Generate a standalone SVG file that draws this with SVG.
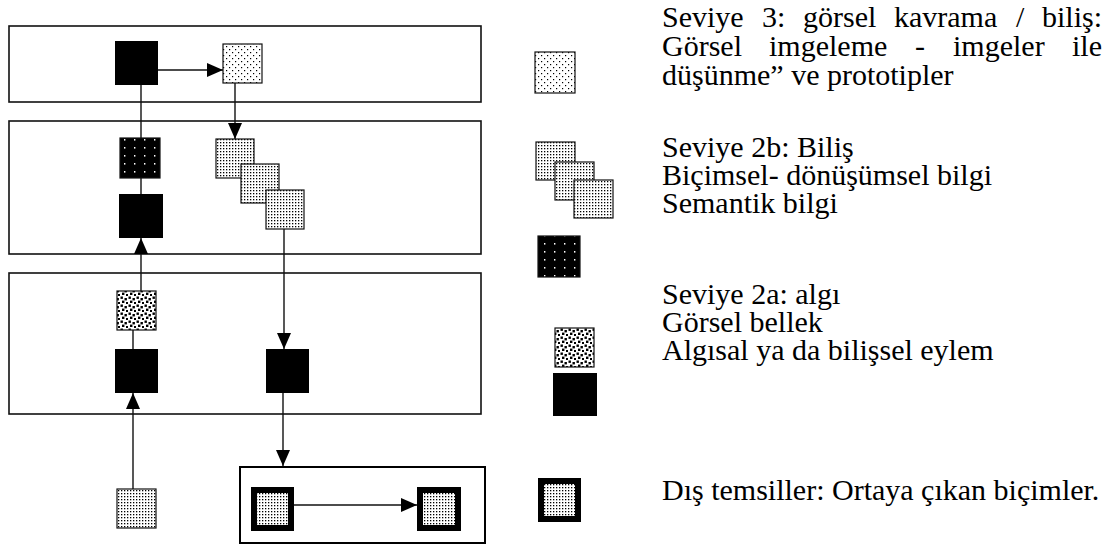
<svg xmlns="http://www.w3.org/2000/svg" width="1107" height="544" viewBox="0 0 1107 544">
<style>
.box{fill:none;stroke:#111;stroke-width:1.6}
.box2{fill:none;stroke:#000;stroke-width:2}
.blk{fill:#000}
.sq{stroke:#111;stroke-width:1.2}
.ln{fill:none;stroke:#111;stroke-width:1.4}
text{font-family:'Liberation Serif','Times New Roman',Times,serif;font-size:30px;fill:#000}
</style>
<defs>
<pattern id="pSparse" patternUnits="userSpaceOnUse" width="6" height="6">
<rect width="6" height="6" fill="#fff"/>
<rect x="1" y="1" width="1.2" height="1.2" fill="#000"/>
<rect x="4" y="4" width="1.2" height="1.2" fill="#000"/>
</pattern>
<pattern id="pDense" patternUnits="userSpaceOnUse" width="3" height="3">
<rect width="3" height="3" fill="#fff"/>
<rect x="1" y="1" width="1.3" height="1.3" fill="#000"/>
</pattern>
<pattern id="pDark" patternUnits="userSpaceOnUse" width="10" height="8">
<rect width="10" height="8" fill="#000"/>
<rect x="4" y="3" width="1.4" height="1.6" fill="#fff"/>
</pattern>
<pattern id="pBig" patternUnits="userSpaceOnUse" width="8" height="8">
<rect width="8" height="8" fill="#fff"/>
<rect x="0.5" y="0.5" width="2.4" height="2.4" fill="#000"/>
<rect x="4.5" y="2" width="2.4" height="2.4" fill="#000"/>
<rect x="2" y="4.6" width="2.4" height="2.4" fill="#000"/>
<rect x="6" y="6" width="2" height="2" fill="#000"/>
</pattern>
<marker id="ah" markerUnits="userSpaceOnUse" markerWidth="16" markerHeight="14" refX="16" refY="7" orient="auto">
<path d="M0,0 L16,7 L0,14 z" fill="#000"/>
</marker>
</defs>

<g id="level3-box"><rect class="box" x="9" y="26" width="472" height="76"/></g>
<g id="level2b-box"><rect class="box" x="9" y="121" width="472" height="133"/></g>
<g id="level2a-box"><rect class="box" x="9" y="273" width="472" height="141"/></g>
<g id="external-box"><rect class="box2" x="240" y="467" width="245" height="76"/></g>

<g id="connectors">
<line class="ln" x1="158" y1="70" x2="223" y2="70" marker-end="url(#ah)"/>
<line class="ln" x1="235" y1="83" x2="235" y2="139" marker-end="url(#ah)"/>
<line class="ln" x1="141" y1="85" x2="141" y2="138"/>
<line class="ln" x1="141" y1="178" x2="141" y2="194"/>
<line class="ln" x1="141" y1="291" x2="141" y2="238" marker-end="url(#ah)"/>
<line class="ln" x1="133" y1="330" x2="133" y2="349"/>
<line class="ln" x1="133" y1="489" x2="133" y2="393" marker-end="url(#ah)"/>
<line class="ln" x1="284" y1="229" x2="284" y2="349" marker-end="url(#ah)"/>
<line class="ln" x1="283" y1="393" x2="283" y2="466" marker-end="url(#ah)"/>
<line class="ln" x1="294" y1="505" x2="417" y2="505" marker-end="url(#ah)"/>
</g>

<g id="n-top-action"><rect class="blk" x="115" y="41" width="43" height="44"/></g>
<g id="n-top-image"><rect class="sq" fill="url(#pSparse)" x="223" y="44" width="39" height="39"/></g>
<g id="n-semantic"><rect class="sq" fill="url(#pDark)" x="120" y="138" width="40" height="40"/></g>
<g id="n-formal-1"><rect class="sq" fill="url(#pDense)" x="216" y="139" width="38" height="39"/></g>
<g id="n-formal-2"><rect class="sq" fill="url(#pDense)" x="241" y="164" width="38" height="39"/></g>
<g id="n-formal-3"><rect class="sq" fill="url(#pDense)" x="266" y="190" width="38" height="39"/></g>
<g id="n-2b-action"><rect class="blk" x="119" y="194" width="44" height="44"/></g>
<g id="n-memory"><rect class="sq" fill="url(#pBig)" x="117" y="291" width="39" height="39"/></g>
<g id="n-2a-action-left"><rect class="blk" x="115" y="349" width="43" height="44"/></g>
<g id="n-2a-action-right"><rect class="blk" x="266" y="349" width="43" height="44"/></g>
<g id="n-input"><rect class="sq" fill="url(#pDense)" x="117" y="489" width="39" height="39"/></g>
<g id="n-ext-1"><rect class="blk" x="251" y="487" width="43" height="44"/><rect fill="url(#pDense)" x="257" y="493" width="31" height="32"/></g>
<g id="n-ext-2"><rect class="blk" x="417" y="487" width="44" height="44"/><rect fill="url(#pDense)" x="423" y="493" width="32" height="32"/></g>

<g id="legend-3">
<rect class="sq" fill="url(#pSparse)" x="535" y="52" width="40" height="41"/>
<text y="27"><tspan x="662">Seviye</tspan><tspan x="762">3:</tspan><tspan x="803">görsel</tspan><tspan x="894">kavrama</tspan><tspan x="1016">/</tspan><tspan x="1042">biliş:</tspan></text>
<text y="56"><tspan x="662">Görsel</tspan><tspan x="769">imgeleme</tspan><tspan x="915">-</tspan><tspan x="953">imgeler</tspan><tspan x="1072">ile</tspan></text>
<text x="662" y="85">düşünme” ve prototipler</text>
</g>
<g id="legend-2b">
<rect class="sq" fill="url(#pDense)" x="536" y="142" width="39" height="38"/>
<rect class="sq" fill="url(#pDense)" x="555" y="162" width="39" height="38"/>
<rect class="sq" fill="url(#pDense)" x="574" y="180" width="39" height="38"/>
<rect class="sq" fill="url(#pDark)" x="538" y="236" width="42" height="41"/>
<text x="662" y="157">Seviye 2b: Biliş</text>
<text x="662" y="185">Biçimsel- dönüşümsel bilgi</text>
<text x="662" y="213">Semantik bilgi</text>
</g>
<g id="legend-2a">
<rect class="sq" fill="url(#pBig)" x="555" y="328" width="39" height="39"/>
<rect class="blk" x="553" y="373" width="44" height="43"/>
<text x="662" y="304">Seviye 2a: algı</text>
<text x="662" y="332">Görsel bellek</text>
<text x="662" y="360">Algısal ya da bilişsel eylem</text>
</g>
<g id="legend-ext">
<rect class="blk" x="538" y="478" width="43" height="44"/>
<rect fill="url(#pDense)" x="544" y="484" width="31" height="32"/>
<text x="662" y="500">Dış temsiller: Ortaya çıkan biçimler.</text>
</g>
</svg>
